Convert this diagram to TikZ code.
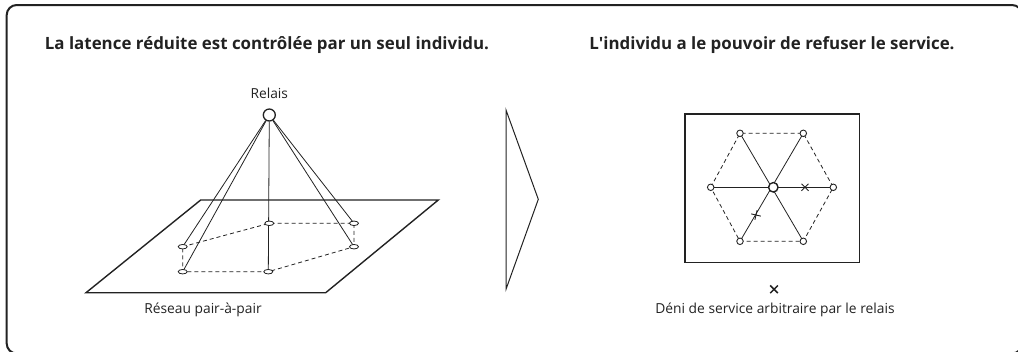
\documentclass[tikz,border=0pt]{standalone}
\usepackage{fontspec}
\setmainfont{Open Sans}
\usetikzlibrary{shapes.geometric}
\definecolor{ink}{HTML}{222222}
\tikzset{
  title/.style={font=\fontsize{16.9}{20}\selectfont\bfseries, text=ink, inner sep=0pt},
  label/.style={font=\fontsize{13.8}{16}\selectfont, text=ink, inner sep=0pt},
  relay/.style={circle, draw=ink, line width=1.3pt, fill=white, minimum size=12pt, inner sep=0pt},
  peer/.style={ellipse, draw=ink, line width=0.8pt, fill=white, minimum width=9pt, minimum height=4.5pt, inner sep=0pt},
  hnode/.style={circle, draw=ink, line width=0.9pt, fill=white, minimum size=6.5pt, inner sep=0pt},
  hub/.style={circle, draw=ink, line width=1.4pt, fill=white, minimum size=9.5pt, inner sep=0pt},
  spoke/.style={draw=ink, line width=0.8pt},
  link/.style={draw=ink, line width=0.8pt, dash pattern=on 4pt off 3pt},
  cross/.style={draw=ink, line width=0.9pt},
}
\begin{document}
\begin{tikzpicture}[x=1pt, y=-1pt]
\useasboundingbox (0,0) rectangle (1018,351);
\clip (0,0) rectangle (1018,351);
% outer frame (cropped at right and bottom)
\draw[ink, line width=2pt, rounded corners=10pt] (6.7,5) rectangle (1022,353.5);

% titles
\node[title] (t1) at (267,45) {La latence réduite est contrôlée par un seul individu.};
\node[title] (t2) at (772,45) {L\textquotesingle individu a le pouvoir de refuser le service.};

% ---------- left figure ----------
\draw[ink, line width=1.4pt] (200.7,200) -- (438.3,200) -- (325.7,292.7) -- (86,292.7) -- cycle;
\node[label] (rl) at (269.3,93) {Relais};
\node[label] (net) at (203,310) {Réseau pair-à-pair};

\coordinate (c1) at (269.3,223.3);
\coordinate (c2) at (354,223.3);
\coordinate (c3) at (354,246.7);
\coordinate (c4) at (268.3,271.7);
\coordinate (c5) at (182.7,271.7);
\coordinate (c6) at (182.7,246.7);
\node[relay] (R) at (269.3,115) {};
% dashed ring
\path[link] (c6) -- (c1) -- (c2) -- (c3) -- (c4) -- (c5) -- cycle;
% links to relay
\path[spoke] (R) -- (c6);
\path[spoke] (R) -- (c5);
\path[spoke] (R) -- (c4);
\path[spoke] (R) -- (c2);
\path[spoke] (R) -- (c3);
% peers
\node[peer] (p1) at (c1) {};
\node[peer] (p2) at (c2) {};
\node[peer] (p3) at (c3) {};
\node[peer] (p4) at (c4) {};
\node[peer] (p5) at (c5) {};
\node[peer] (p6) at (c6) {};

% ---------- chevron ----------
\draw[ink, line width=1pt] (506,110) -- (538.3,199.3) -- (506,289.3) -- cycle;

% ---------- right figure ----------
\draw[ink, line width=1.5pt] (685,114) rectangle (859.3,262.7);
\coordinate (C) at (773.3,187.3);
\coordinate (L) at (710.7,187.3);
\coordinate (Rr) at (833.3,187.3);
\coordinate (TL) at (740,133.3);
\coordinate (TR) at (803.3,133.3);
\coordinate (BL) at (740,241.3);
\coordinate (BR) at (803.3,241.3);
\path[link] (L) -- (TL) -- (TR) -- (Rr) -- (BR) -- (BL) -- cycle;
\path[spoke] (L) -- (Rr);
\path[spoke] (TL) -- (BR);
\path[spoke] (TR) -- (BL);
\node[hnode] (nL) at (L) {};
\node[hnode] (nR) at (Rr) {};
\node[hnode] (nTL) at (TL) {};
\node[hnode] (nTR) at (TR) {};
\node[hnode] (nBL) at (BL) {};
\node[hnode] (nBR) at (BR) {};
\node[hub] (hub) at (C) {};
% blocked links
\begin{scope}[shift={(805,187.3)}]
\draw[cross] (-3.5,-3.5) -- (3.5,3.5) (3.5,-3.5) -- (-3.5,3.5);
\end{scope}
\begin{scope}[shift={(756,215)}, rotate=-58]
\draw[cross] (-3.5,-3.5) -- (3.5,3.5) (3.5,-3.5) -- (-3.5,3.5);
\end{scope}

% legend
\begin{scope}[shift={(774,289.3)}]
\draw[ink, line width=1.5pt] (-3.8,-3.8) -- (3.8,3.8) (3.8,-3.8) -- (-3.8,3.8);
\end{scope}
\node[label] (leg) at (775,310) {Déni de service arbitraire par le relais};
\end{tikzpicture}
\end{document}
